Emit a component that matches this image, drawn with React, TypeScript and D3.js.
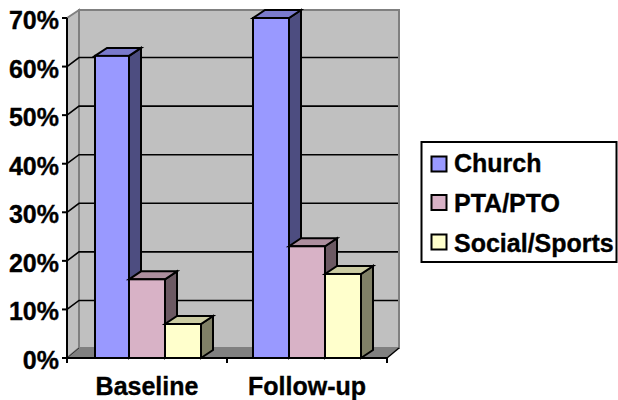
import React from "react";
import * as d3 from "d3";

const categories = ["Baseline", "Follow-up"];
const seriesNames = ["Church", "PTA/PTO", "Social/Sports"];
const church = [62.2, 70];
const ptaPto = [16.2, 23];
const socialSports = [7, 17.3];
const seriesValues = [church, ptaPto, socialSports];
const yTicks = [0, 10, 20, 30, 40, 50, 60, 70];
const frontColors = ["#9999ff", "#d8b2c6", "#ffffcc"];

const W = 618, H = 400;
const x0 = 67, x1 = 387, y0 = 358, y70 = 18;
const wallDx = 12, wallDy = 10, barDx = 12, barDy = 8;
const FONT = "'Liberation Sans', Arial, sans-serif";

const y = d3.scaleLinear().domain([0, 70]).range([y0, y70]);
const xCat = d3.scaleBand<string>().domain(categories).range([x0, x1]);
const xSer = d3.scaleBand<string>().domain(seriesNames).range([26, 160 - 26]);
const shade = (c: string, k: number) => {
  const r = d3.rgb(c);
  return d3.rgb(r.r * k, r.g * k, r.b * k).formatHex();
};
const pts = (p: number[][]) => p.map((a) => a.join(",")).join(" ");
const heavy = { stroke: "#000", strokeWidth: 0.35 };

export default function App() {
  return (
    <svg width={W} height={H} style={{ position: "absolute", left: 0, top: 0 }} fontFamily={FONT} fontWeight="bold">
      <rect width={W} height={H} fill="#fff" />
      {/* walls */}
      <polygon points={pts([[x0 + wallDx, y(70) - wallDy + 2], [x1 + wallDx, y(70) - wallDy + 2], [x1 + wallDx, y0 - wallDy], [x0 + wallDx, y0 - wallDy]])} fill="#c0c0c0" stroke="#808080" strokeWidth={2} />
      <polygon points={pts([[x0, y(70)], [x0 + wallDx, y(70) - wallDy + 2], [x0 + wallDx, y0 - wallDy], [x0, y0]])} fill="#c0c0c0" stroke="#808080" strokeWidth={2} />
      <polygon points={pts([[x0, y0], [x0 + wallDx, y0 - wallDy], [x1 + wallDx, y0 - wallDy], [x1, y0]])} fill="#808080" />
      <line x1={x0} y1={y0} x2={x0 + wallDx} y2={y0 - wallDy} stroke="#333" strokeWidth={1} />
      <line x1={x1} y1={y0} x2={x1 + wallDx} y2={y0 - wallDy} stroke="#000" strokeWidth={1.5} />
      {/* gridlines */}
      {yTicks.slice(1, -1).map((t) => (
        <polyline key={t} points={pts([[x0, y(t)], [x0 + wallDx, y(t) - wallDy + 1], [x1 + wallDx - 1, y(t) - wallDy + 1]])} fill="none" stroke="#000" strokeWidth={1.6} />
      ))}
      {/* bars */}
      {categories.map((c, ci) =>
        seriesNames.map((s, si) => {
          const inset = ci === 0 && si === 0 ? 2 : 0;
          const l = xCat(c)! + xSer(s)! + inset;
          const r = xCat(c)! + xSer(s)! + xSer.bandwidth();
          const t = y(seriesValues[si][ci]);
          const fill = frontColors[si];
          return (
            <g key={c + s} stroke="#000" strokeWidth={2} strokeLinejoin="miter">
              <polygon points={pts([[r, t], [r + barDx, t - barDy], [r + barDx, y0 - barDy], [r, y0]])} fill={shade(fill, 0.5)} />
              <polygon points={pts([[l, t], [l + barDx, t - barDy], [r + barDx, t - barDy], [r, t]])} fill={shade(fill, 0.8)} />
              <rect x={l} y={t} width={r - l} height={y0 - t} fill={fill} />
            </g>
          );
        })
      )}
      {/* axes */}
      <line x1={x0} x2={x0} y1={y(70)} y2={y0 + 5} stroke="#000" strokeWidth={2} />
      <line x1={x0 - 1} x2={x1} y1={y0} y2={y0} stroke="#000" strokeWidth={2} />
      {yTicks.map((t) => (
        <g key={t}>
          <line x1={x0 - 5} x2={x0} y1={y(t)} y2={y(t)} stroke="#000" strokeWidth={2} />
          <text x={59} y={y(t) + 11} textAnchor="end" fontSize={25} fill="#000" {...heavy}>{t}%</text>
        </g>
      ))}
      {[...categories.map((c) => xCat(c)!), x1].map((v) => (
        <line key={v} x1={v} x2={v} y1={y0} y2={y0 + 5} stroke="#000" strokeWidth={2} />
      ))}
      {categories.map((c) => (
        <text key={c} x={xCat(c)! + xCat.bandwidth() / 2} y={395} textAnchor="middle" fontSize={25} fill="#000" {...heavy}>{c}</text>
      ))}
      {/* legend */}
      <rect x={421.5} y={142} width={195} height={120} fill="#fff" stroke="#000" strokeWidth={2} />
      {seriesNames.map((s, i) => (
        <g key={s}>
          <rect x={431.5} y={[156.5, 195, 234.5][i]} width={15} height={15} fill={frontColors[i]} stroke="#000" strokeWidth={2} />
          <text x={454} y={[172, 212, 252][i]} fontSize={25} fill="#000" {...heavy}>{s}</text>
        </g>
      ))}
    </svg>
  );
}
